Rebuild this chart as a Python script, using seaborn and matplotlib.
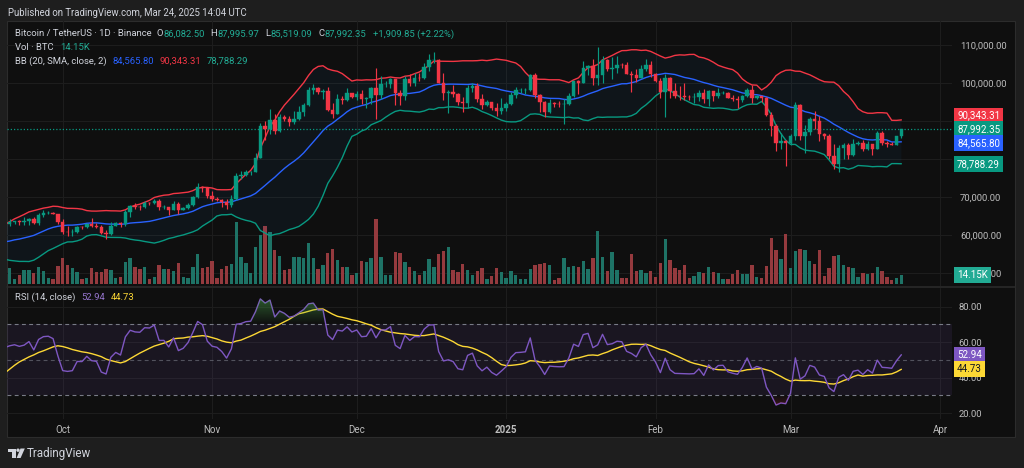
import numpy as np
import pandas as pd
import matplotlib
matplotlib.use("Agg")
import matplotlib.pyplot as plt
import matplotlib.dates as mdates
from matplotlib.patches import Rectangle, Circle, Polygon
from matplotlib.lines import Line2D
from matplotlib.path import Path
from matplotlib.transforms import blended_transform_factory, Affine2D
from matplotlib.colors import LinearSegmentedColormap
import seaborn as sns

# ---------------- data (BTC/USDT daily, Binance) ----------------
# closes before the visible window (used only to warm up BB / RSI)
warmup_close = [65350, 61500, 60700, 58160, 54020, 56040, 55130, 61710, 60880, 60950,
                58710, 59350, 60600, 58740, 57560, 58870, 59490, 58430, 59490, 59020,
                61160, 60380, 64100, 64180, 64220, 62830, 59420, 59030, 59360, 59120, 58970,
                57330, 59130, 57490, 57970, 56160, 53960, 54160, 54870, 57050, 57640,
                57340, 58130, 60570, 60000, 59180, 58210, 60310, 61760, 62950]

first_date = "2024-09-20"
close = [63350, 63580, 63340, 63580, 64260, 63150, 65180, 65790, 65880, 65600, 63330,
         60800, 60650, 60750, 62080, 62060, 62820, 62220, 62130, 60580, 60270,
         62450, 63190, 62850, 66080, 67620, 67420, 67380, 68390, 68360, 69000,
         67370, 67380, 66650, 68160, 66640, 67010, 67950, 69900, 72720, 72340, 70220,
         69490, 69340, 68750, 67800, 69360, 75640, 75900, 76540, 76690, 80370,
         88650, 87950, 90380, 87320, 91060, 90600, 89850, 90460, 92310, 94290,
         98320, 98890, 97670, 97900, 93010, 91970, 95860, 95650, 97460, 96410,
         97190, 95840, 96000, 98770, 96950, 99870, 99920, 101170, 97360, 96590,
         101130, 100000, 101420, 101370, 104300, 106060, 106140, 100200, 97460, 97800,
         97290, 95190, 94880, 98690, 99350, 95800, 94230, 95160, 93530, 92640, 93580,
         94590, 96880, 98140, 98220, 98360, 102240, 96950, 95040, 92480, 94700,
         94560, 94490, 94520, 96530, 100500, 99990, 104080, 104560, 101330, 102260,
         106140, 103650, 103960, 104820, 104710, 102570, 102080, 101300, 103730, 104730, 102430,
         100640, 97690, 101400, 97870, 96610, 96550, 96500, 96450, 96500, 97430,
         95780, 97870, 96620, 97510, 97570, 96120, 95770, 95540, 96640, 98330,
         96130, 96580, 96250, 91550, 88740, 84350, 84700, 84350,
         86060, 94270, 86220, 87220, 90620, 89960, 86740, 86150, 80730, 78600,
         82860, 83720, 81070, 83970, 84340, 82580, 84010, 82720, 86850, 84170,
         84040, 83830, 86082.5, 87992.35]

high = [64130, 63650, 63990, 64750, 64490, 64820, 65840, 66500, 66260, 66080, 65620,
        64130, 62390, 61470, 62480, 62370, 62980, 64480, 63200, 62540, 61320,
        63420, 63480, 63300, 66500, 67950, 68420, 67950, 68970, 68680, 69400,
        69520, 67850, 67470, 68820, 68770, 67450, 68330, 70270, 73620, 72960, 72700,
        71630, 69940, 69390, 69480, 70580, 76400, 76950, 77250, 76900, 81500,
        89530, 89940, 93270, 91790, 91850, 91760, 91450, 92600, 94000, 94900,
        99000, 99800, 98970, 98600, 98900, 94830, 97220, 96650, 98700, 97470,
        97840, 98150, 96300, 99000, 104090, 101900, 100550, 101400, 101200, 98270,
        101900, 102540, 102650, 102650, 105250, 107790, 108350, 106470, 102800, 98150,
        99540, 97360, 96420, 99500, 99960, 99990, 97300, 95500, 95170, 94900, 96150,
        94950, 97800, 98970, 98730, 98810, 102500, 102720, 97260, 95350, 95840,
        95050, 95400, 95900, 97370, 100680, 100870, 105870, 104960, 106310, 109590,
        107240, 106330, 106850, 107100, 105290, 105500, 103220, 103780, 104780, 106460, 106010,
        102780, 101460, 102500, 101740, 100150, 99200, 100140, 96880, 97320, 98340,
        98500, 98120, 98100, 98830, 97970, 97730, 97040, 96750, 96900, 98770,
        99500, 96900, 96640, 96500, 92500, 89290, 87000, 85120,
        86560, 95000, 94420, 88910, 91000, 92810, 91280, 86880, 86500, 83960,
        83620, 84360, 84300, 85310, 84670, 85050, 84720, 84100, 87450, 87440,
        84780, 84560, 86100, 87995.97]

low = [62350, 62760, 62600, 62690, 62700, 62930, 62670, 64800, 65420, 65430, 62860,
       60160, 59830, 59830, 60460, 61680, 61820, 62130, 61840, 60300, 58900,
       60050, 62420, 62030, 62420, 64800, 66750, 66670, 67160, 67920, 68110,
       66580, 66800, 65260, 66480, 65520, 66520, 66800, 67530, 69730, 71440, 69680,
       68820, 69000, 67460, 66840, 67460, 69300, 74800, 75560, 75820, 76500,
       80220, 85070, 86620, 86670, 87120, 90090, 88720, 89380, 90380, 91500,
       94110, 97180, 97200, 95750, 92600, 90800, 91790, 94600, 95400, 96100,
       95700, 94500, 93580, 94660, 90500, 95980, 98950, 98770, 94150, 94250,
       95700, 99310, 99200, 100630, 101230, 103330, 105320, 100000, 95700, 92130,
       96400, 94200, 92400, 93400, 97600, 95150, 93250, 94100, 92880, 91320, 92000,
       92800, 94200, 96180, 97520, 97250, 97900, 96130, 92500, 91200, 92210,
       93800, 93700, 89260, 94300, 96490, 97300, 99950, 102270, 99540, 99550,
       100120, 103260, 101260, 102750, 104100, 102520, 97780, 100270, 101270, 103290, 101540,
       100280, 96150, 91230, 96150, 96150, 95650, 95620, 95690, 94750, 95250,
       94850, 94100, 95240, 96250, 97230, 96050, 95200, 93390, 95000, 96420,
       94870, 95770, 95090, 91370, 86000, 82260, 82700, 78260,
       83820, 85040, 85080, 81530, 86340, 87850, 84670, 85250, 80000, 77460,
       76600, 80000, 79940, 80820, 83630, 82020, 82460, 81130, 82600, 83650,
       83170, 83650, 83790, 85519.09]

volume_k = [25.6, 8.2, 14.7, 22.8, 22.8, 17.4, 28.2, 21.2, 9.3, 8.2, 29.3,
            42.9, 31.0, 25.6, 20.0, 8.2, 9.3, 25.6, 19.1, 19.1, 24.0,
            22.8, 10.3, 11.9, 36.3, 42.9, 28.2, 24.5, 28.2, 8.2, 11.9,
            31.0, 24.5, 24.5, 21.7, 33.7, 11.9, 10.3, 28.2, 48.9, 25.6, 28.2,
            37.5, 10.3, 24.5, 29.3, 32.1, 100.6, 43.5, 34.7, 17.4, 59.8,
            79.9, 94.5, 84.3, 55.4, 46.1, 22.8, 24.0, 44.5, 43.5, 41.9,
            67.3, 41.9, 25.0, 31.0, 50.0, 56.6, 39.1, 28.2, 27.2, 14.7,
            17.4, 37.5, 35.4, 41.9, 106.0, 43.5, 14.7, 14.7, 52.6, 50.0,
            36.3, 28.2, 21.2, 14.2, 21.7, 40.3, 28.2, 48.9, 53.3, 60.8,
            22.8, 19.1, 32.1, 22.8, 14.7, 21.2, 25.6, 8.2, 13.5, 26.6, 19.6,
            10.3, 21.7, 14.7, 8.2, 8.2, 24.5, 31.0, 32.6, 33.7, 31.0,
            6.5, 9.3, 41.9, 27.2, 29.8, 27.2, 38.0, 24.5, 41.9, 86.4,
            44.5, 21.7, 52.6, 22.8, 9.3, 9.3, 48.4, 21.2, 22.8, 18.4, 21.2,
            11.9, 33.7, 72.9, 39.1, 25.6, 22.8, 31.0, 10.3, 13.5, 20.0,
            17.4, 28.2, 19.1, 17.4, 7.7, 8.2, 15.8, 22.8, 15.8, 16.3,
            31.0, 10.9, 10.3, 29.8, 75.5, 54.9, 40.8, 81.0,
            25.6, 53.8, 57.0, 54.9, 37.5, 32.6, 55.9, 13.0, 25.6, 46.1,
            47.3, 31.0, 27.2, 25.6, 11.9, 17.4, 16.3, 17.4, 27.7, 21.7,
            11.9, 6.0, 9.3, 14.15]

# legend / last values shown on the chart
last_open, last_high, last_low, last_close = 86082.50, 87995.97, 85519.09, 87992.35
change_text = "+1,909.85 (+2.22%)"
bb_basis_last, bb_upper_last, bb_lower_last = 84565.80, 90343.31, 78788.29
vol_last_k = 14.15
rsi_last, rsi_ma_last = 52.94, 44.73

price_ticks = [50000, 60000, 70000, 80000, 90000, 100000, 110000]
hidden_price_labels = [90000]          # fully covered by the value tags in the reference
rsi_ticks = [20, 40, 60, 80]
month_ticks = ["2024-10-01", "2024-11-01", "2024-12-01", "2025-01-01",
               "2025-02-01", "2025-03-01", "2025-04-01"]
month_labels = ["Oct", "Nov", "Dec", "2025", "Feb", "Mar", "Apr"]

assert len(close) == len(high) == len(low) == len(volume_k) == 186

# ---------------- style ----------------
sns.set_theme(style="dark", rc={"axes.facecolor": "#0f0f0f", "figure.facecolor": "#1e1e1e"})
plt.rcParams["font.family"] = ["Roboto", "DejaVu Sans"]
plt.rcParams["font.size"] = 6.8

BG = "#0f0f0f"
GRID = "#1d1d1d"
UP, DOWN = "#089981", "#f23645"
TXT = "#d1d4dc"
AX_TXT = "#bdbdbd"

W, H = 1024, 468
fig = plt.figure(figsize=(W / 100, H / 100), dpi=100, facecolor="#1e1e1e")
tpx = Affine2D().scale(1 / W, -1 / H).translate(0, 1) + fig.transFigure


def fr(x0, y0, x1, y1):
    return [x0 / W, 1 - y1 / H, (x1 - x0) / W, (y1 - y0) / H]


# chart frame
fig.add_artist(Rectangle((7, 21), 1008, 416, transform=tpx, fc=BG, ec="#2c2c2c", lw=0.8, zorder=-5))

ax = fig.add_axes(fr(7, 21, 952, 286))
axv = ax.twinx()
ax2 = fig.add_axes(fr(7, 288, 952, 419), sharex=ax)
for a in (ax, axv, ax2):
    a.patch.set_visible(False)
    for sp in a.spines.values():
        sp.set_visible(False)
ax.set_zorder(3)
axv.set_zorder(2)

# ---------------- series ----------------
dates = pd.date_range(first_date, periods=len(close), freq="D")
warm_dates = pd.date_range(end=dates[0] - pd.Timedelta(days=1), periods=len(warmup_close), freq="D")
xs = mdates.date2num(dates.to_pydatetime())
all_x = mdates.date2num(warm_dates.append(dates).to_pydatetime())

c = np.array(close, float)
o = np.r_[warmup_close[-1], c[:-1]]
hi = np.maximum.reduce([np.array(high, float), o, c])
lo = np.minimum.reduce([np.array(low, float), o, c])
vol = np.array(volume_k, float)

s = pd.Series(list(map(float, warmup_close)) + list(c))
basis = s.rolling(20).mean()
sd = s.rolling(20).std(ddof=0)
upper = basis + 2 * sd
lower = basis - 2 * sd
dlt = s.diff()
ag = dlt.clip(lower=0).ewm(alpha=1 / 14, adjust=False).mean()
al = (-dlt).clip(lower=0).ewm(alpha=1 / 14, adjust=False).mean()
rsi = 100 - 100 / (1 + ag / al)
rsi_ma = rsi.rolling(14).mean()

d_oct = mdates.date2num(pd.Timestamp("2024-10-01").to_pydatetime())
ppd = 4.82
xlim = (d_oct - (62.7 - 7) / ppd, d_oct - (62.7 - 7) / ppd + 945 / ppd)
mt = mdates.date2num(pd.to_datetime(month_ticks).to_pydatetime())

# ---------------- price pane ----------------
py = lambda yp: 100000 + (83.3 - yp) / 0.00379
ax.set_ylim(py(286), py(21))
axv.set_ylim(-2 * 1.63, 263 * 1.63)

# grid (drawn in the lower axes)
ytr = blended_transform_factory(axv.transAxes, ax.transData)
for p in price_ticks:
    axv.add_line(Line2D([0, 1], [p, p], transform=ytr, color=GRID, lw=0.8, zorder=0.5))
for m in mt:
    axv.axvline(m, color=GRID, lw=0.8, zorder=0.5)

# volume
vcol = np.where(c >= o, "#1e7366", "#953a3e")
axv.bar(xs, vol, width=0.7, color=vcol, linewidth=0, zorder=2)

# bollinger bands
k = 19
ax.fill_between(all_x[k:], lower[k:], upper[k:], color="#2196f3", alpha=0.05, lw=0, zorder=1)
sns.lineplot(x=all_x[k:], y=upper.values[k:], ax=ax, color="#f23645", linewidth=1.0, sort=False, estimator=None, legend=False)
sns.lineplot(x=all_x[k:], y=basis.values[k:], ax=ax, color="#2962ff", linewidth=1.0, sort=False, estimator=None, legend=False)
sns.lineplot(x=all_x[k:], y=lower.values[k:], ax=ax, color="#089981", linewidth=1.0, sort=False, estimator=None, legend=False)

# candles
ccol = np.where(c >= o, UP, DOWN)
ax.vlines(xs, lo, hi, colors=ccol, lw=0.85, zorder=4)
ax.bar(xs, np.abs(c - o), bottom=np.minimum(o, c), width=0.72, color=ccol, edgecolor=ccol, linewidth=0.3, zorder=5)

# last price line
ax.axhline(c[-1], color=UP, lw=0.9, ls=(0, (1, 1.6)), zorder=3)

ax.set_xlim(*xlim)
ax.set_xlabel("")
ax.set_ylabel("")
axv.set_ylabel("")
axv.set_yticks([])
axv.tick_params(length=0)
ax.yaxis.tick_right()
ax.set_yticks(price_ticks)
ax.set_yticklabels(["" if p in hidden_price_labels else f"{p:,.2f}" for p in price_ticks])
ax.tick_params(axis="y", length=0, pad=5.8, labelcolor=AX_TXT, labelsize=6.8)
ax.tick_params(axis="x", length=0, labelbottom=False)
ax.grid(False)
axv.grid(False)

blend_p = blended_transform_factory(ax.transAxes, ax.transData)
blend_v = blended_transform_factory(axv.transAxes, axv.transData)


def tag(axis, tr, val, text, fc, tc, dy_px=0.0):
    axis.annotate(text, xy=(1, val), xycoords=tr, xytext=(3.6, dy_px * 0.72), textcoords="offset points",
                  ha="left", va="center", color=tc, fontsize=7.0,
                  bbox=dict(boxstyle="square,pad=0.32", fc=fc, ec="none"),
                  annotation_clip=False, zorder=20)


tag(ax, blend_p, bb_upper_last, f"{bb_upper_last:,.2f}", "#f23645", "white", 4.2)
tag(ax, blend_p, last_close, f"{last_close:,.2f}", "#089981", "white", -0.7)
tag(ax, blend_p, bb_basis_last, f"{bb_basis_last:,.2f}", "#2962ff", "white", -1.5)
tag(ax, blend_p, bb_lower_last, f"{bb_lower_last:,.2f}", "#089981", "white", -0.6)
tag(ax, blend_v, vol_last_k, f"{vol_last_k:.2f}K", "#22ab94", "white", 0)

# ---------------- RSI pane ----------------
ry = lambda yp: 80 - (yp - 306.7) / 1.775
ax2.set_ylim(ry(419), ry(288))
for r in rsi_ticks:
    ax2.axhline(r, color=GRID, lw=0.8, zorder=0.5)
for m in mt:
    ax2.axvline(m, color=GRID, lw=0.8, zorder=0.5)
ax2.axhspan(30, 70, color="#7e57c2", alpha=0.10, lw=0, zorder=1)
ax2.axhline(70, color="#787b86", lw=0.8, ls=(0, (3.5, 3)), zorder=2)
ax2.axhline(30, color="#787b86", lw=0.8, ls=(0, (3.5, 3)), zorder=2)
ax2.axhline(50, color="#787b86", lw=0.8, ls=(0, (3.5, 3)), alpha=0.6, zorder=2)

rv = rsi.values
m_ob = ~np.isnan(rv)
poly = ax2.fill_between(all_x[m_ob], 70, rv[m_ob], where=rv[m_ob] >= 70, interpolate=True, color="none", lw=0)
grad = np.linspace(0, 1, 256).reshape(-1, 1)
if poly.get_paths():
    cp = Path.make_compound_path(*poly.get_paths())
    cm = LinearSegmentedColormap.from_list("ob", [(0.30, 0.69, 0.31, 0.0), (0.30, 0.69, 0.31, 0.65)])
    im = ax2.imshow(grad, extent=[all_x[0], all_x[-1], 70, 90], origin="lower", aspect="auto", cmap=cm, zorder=2.5)
    im.set_clip_path(cp, transform=ax2.transData)
poly2 = ax2.fill_between(all_x[m_ob], 30, rv[m_ob], where=rv[m_ob] <= 30, interpolate=True, color="none", lw=0)
if poly2.get_paths():
    cp2 = Path.make_compound_path(*poly2.get_paths())
    cm2 = LinearSegmentedColormap.from_list("os", [(0.95, 0.21, 0.27, 0.65), (0.95, 0.21, 0.27, 0.0)])
    im2 = ax2.imshow(grad, extent=[all_x[0], all_x[-1], 10, 30], origin="lower", aspect="auto", cmap=cm2, zorder=2.5)
    im2.set_clip_path(cp2, transform=ax2.transData)

sns.lineplot(x=all_x, y=rsi_ma.values, ax=ax2, color="#fdd835", linewidth=1.0, sort=False, estimator=None, legend=False)
sns.lineplot(x=all_x, y=rv, ax=ax2, color="#7e57c2", linewidth=1.0, sort=False, estimator=None, legend=False)

ax2.set_xlim(*xlim)
ax2.set_ylim(ry(419), ry(288))
ax2.set_xlabel("")
ax2.set_ylabel("")
ax2.yaxis.tick_right()
ax2.set_yticks(rsi_ticks)
ax2.set_yticklabels([f"{r:.2f}" for r in rsi_ticks])
ax2.tick_params(axis="y", length=0, pad=4.6, labelcolor=AX_TXT, labelsize=6.8)
ax2.set_xticks(mt)
ax2.set_xticklabels(month_labels)
ax2.tick_params(axis="x", length=0, pad=4.0, labelcolor=AX_TXT, labelsize=7)
for lbl in ax2.get_xticklabels():
    if lbl.get_text() == "2025":
        lbl.set_fontweight("bold")
ax2.grid(False)

blend_r = blended_transform_factory(ax2.transAxes, ax2.transData)
tag(ax2, blend_r, rsi_last, f"{rsi_last:.2f}", "#7e57c2", "white", 0)
tag(ax2, blend_r, rsi_ma_last, f"{rsi_ma_last:.2f}", "#fdd835", "#131722", 0)

# pane separator
fig.add_artist(Line2D([7, 1015], [287, 287], transform=tpx, color="#2a2a2a", lw=1.2, zorder=5))

# ---------------- texts ----------------
renderer = fig.canvas.get_renderer()


def chain(x, y, parts, size=6.8, weight="normal"):
    for txt, col, gap in parts:
        t = fig.text(x / W, 1 - y / H, txt, color=col, fontsize=size, va="center", ha="left", fontweight=weight)
        x += t.get_window_extent(renderer).width + gap


TEAL = "#22ab94"
chain(8, 13, [("Published on TradingView.com, Mar 24, 2025 14:04 UTC", TXT, 0)], size=6.9)
chain(14.7, 34, [("Bitcoin / TetherUS · 1D · Binance", TXT, 5.5),
                 ("O", TXT, 0.6), (f"{last_open:,.2f}", TEAL, 5.5),
                 ("H", TXT, 0.6), (f"{last_high:,.2f}", TEAL, 5.5),
                 ("L", TXT, 0.6), (f"{last_low:,.2f}", TEAL, 5.5),
                 ("C", TXT, 0.6), (f"{last_close:,.2f}", TEAL, 6.5),
                 (change_text, TEAL, 0)])
chain(14.7, 47.5, [("Vol · BTC", TXT, 6.5), (f"{vol_last_k:.2f}K", TEAL, 0)])
chain(14.7, 61, [("BB (20, SMA, close, 2)", TXT, 6),
                 (f"{bb_basis_last:,.2f}", "#2962ff", 5.5),
                 (f"{bb_upper_last:,.2f}", "#f23645", 5.5),
                 (f"{bb_lower_last:,.2f}", TEAL, 0)])
chain(14.7, 297.5, [("RSI (14, close)", TXT, 6),
                    (f"{rsi_last:.2f}", "#9575cd", 5.5),
                    (f"{rsi_ma_last:.2f}", "#fdd835", 0)])

# TradingView logo + wordmark
LOGO = "#d1d4dc"
fig.add_artist(Polygon([(8, 448.5), (15.5, 448.5), (15.5, 458), (12, 458), (12, 451.8), (8, 451.8)],
                       closed=True, transform=tpx, fc=LOGO, ec="none"))
fig.add_artist(Circle((18.0, 450.2), 1.7, transform=tpx, fc=LOGO, ec="none"))
fig.add_artist(Polygon([(20.5, 448.5), (24.8, 448.5), (20.6, 458), (16.6, 458)],
                       closed=True, transform=tpx, fc=LOGO, ec="none"))
chain(27, 453.5, [("TradingView", LOGO, 0)], size=8.4)

fig.savefig("out.png", dpi=100, facecolor=fig.get_facecolor())
